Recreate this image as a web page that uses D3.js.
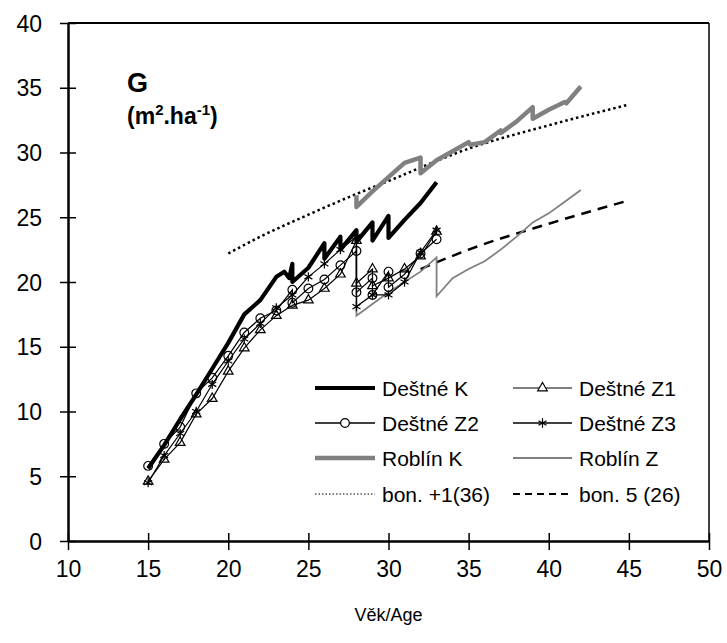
<!DOCTYPE html>
<html><head><meta charset="utf-8">
<script src="https://cdn.jsdelivr.net/npm/d3@7"></script>
<style>body{margin:0;background:#fff}svg{display:block}text{font-family:"Liberation Sans",Arial,sans-serif}</style>
</head><body><svg id="c" width="727" height="643"></svg>
<script>
// ---- data ----
const xTicks = [10, 15, 20, 25, 30, 35, 40, 45, 50];
const yTicks = [0, 5, 10, 15, 20, 25, 30, 35, 40];
const destneK = [[15,5.6],[16,7.4],[17,9.4],[18,11.3],[19,13.3],[20,15.3],[21,17.5],[22,18.6],[23,20.4],[23.5,20.8],[23.8,20.3],[24,21.4],[24,20.0],[25,21.1],[26,23.0],[26,21.8],[27,23.5],[27,22.5],[28,24.0],[28,23.1],[29,24.6],[29,23.2],[30,25.1],[30,23.4],[31,24.8],[32,26.1],[33,27.7]];
const destneZ1 = [[15,4.6],[16,6.3],[17,7.6],[18,9.8],[19,11.0],[20,13.1],[21,14.9],[22,16.3],[23,17.4],[24,18.2],[25,18.6],[26,19.5],[27,20.6],[28,23.2],[28,19.9],[29,21.0],[29,19.7],[30,20.3],[31,21.0],[32,22.0],[33,23.9]];
const destneZ2 = [[15,5.8],[16,7.5],[17,8.8],[18,11.4],[19,12.6],[20,14.3],[21,16.1],[22,17.2],[23,17.8],[24,19.4],[24,18.4],[25,19.5],[26,20.2],[27,21.3],[28,22.4],[28,19.2],[29,20.3],[29,19.0],[30,20.8],[30,19.6],[31,20.6],[32,22.2],[33,23.3]];
const destneZ3 = [[15,4.5],[16,6.6],[17,8.3],[18,10.0],[19,12.1],[20,13.9],[21,15.6],[22,16.8],[23,18.0],[24,19.0],[25,20.4],[26,21.4],[27,22.5],[28,23.5],[28,18.1],[29,19.0],[30,19.0],[31,20.0],[32,22.3],[33,24.0]];
const roblinK = [[28,26.7],[28,25.8],[29,27.0],[30,28.1],[31,29.2],[32,29.6],[32,28.4],[33,29.4],[34,30.1],[35,30.8],[35.1,30.6],[36,30.8],[37,31.7],[37,31.5],[38,32.4],[39,33.5],[39,32.6],[40,33.3],[41,33.9],[41.1,33.8],[42,35.1]];
const roblinZ = [[28,23.5],[28,17.4],[29,18.3],[30,19.2],[31,20.0],[32,20.8],[33,21.9],[33,18.9],[34,20.3],[35,21.0],[36,21.6],[37,22.5],[38,23.5],[39,24.6],[40,25.3],[41,26.2],[42,27.1]];
const bonPlus1 = [[20,22.2],[22,23.5],[25,25.2],[28,26.8],[30,27.8],[35,30.3],[40,32.1],[45,33.7]];
const bon5 = [[32,21.0],[35,22.5],[40,24.5],[45,26.3]];
const legendLabels = ["Deštné K","Deštné Z1","Deštné Z2","Deštné Z3","Roblín K","Roblín Z","bon. +1(36)","bon. 5 (26)"];

// ---- chart ----
const svg = d3.select("#c");
const L = 68, R = 709, T = 23, B = 541;
const x = d3.scaleLinear().domain([10, 50]).range([L, R]);
const y = d3.scaleLinear().domain([0, 40]).range([B, T]);
const line = d3.line().x(d => x(d[0])).y(d => y(d[1]));
const gray = "#808080";

// frame
svg.append("line").attr("x1", L).attr("x2", R).attr("y1", T).attr("y2", T).attr("stroke", "#000").attr("stroke-width", 2);
svg.append("line").attr("x1", R).attr("x2", R).attr("y1", T).attr("y2", B).attr("stroke", "#000").attr("stroke-width", 1.5);

// axes
const yAxis = svg.append("g").attr("transform", `translate(${L},0)`)
  .call(d3.axisLeft(y).tickValues(yTicks).tickSize(8).tickSizeOuter(0).tickPadding(18));
yAxis.selectAll(".tick line").attr("x2", 8).attr("x1", -8).attr("stroke-width", 1.5);
yAxis.select(".domain").attr("stroke-width", 2.5);
yAxis.selectAll("text").attr("font-size", 23).attr("fill", "#000").attr("dy", "0.35em").attr("x", -26);

const xAxis = svg.append("g").attr("transform", `translate(0,${B})`)
  .call(d3.axisBottom(x).tickValues(xTicks).tickSize(9).tickSizeOuter(0).tickPadding(11));
xAxis.selectAll(".tick line").attr("y1", -8).attr("y2", 9).attr("stroke-width", 1.5);
xAxis.select(".domain").attr("stroke-width", 2.5);
xAxis.selectAll("text").attr("font-size", 23).attr("fill", "#000");

svg.append("text").attr("x", (L + R) / 2).attr("y", 621).attr("text-anchor", "middle").attr("font-size", 18).text("Věk/Age");

svg.append("text").attr("x", 127).attr("y", 92).attr("font-size", 27).attr("font-weight", "bold").text("G");
const sub = svg.append("text").attr("x", 127).attr("y", 124).attr("font-size", 23).attr("font-weight", "bold");
sub.append("tspan").text("(m");
sub.append("tspan").attr("font-size", 15).attr("dy", -9).text("2");
sub.append("tspan").attr("dy", 9).text(".ha");
sub.append("tspan").attr("font-size", 15).attr("dy", -9).text("-1");
sub.append("tspan").attr("dy", 9).text(")");

// reference curves
svg.append("path").datum(bonPlus1).attr("d", line.curve(d3.curveMonotoneX)).attr("fill", "none").attr("stroke", "#000").attr("stroke-width", 2.5).attr("stroke-dasharray", "2.5,3");
svg.append("path").datum(bon5).attr("d", line.curve(d3.curveMonotoneX)).attr("fill", "none").attr("stroke", "#000").attr("stroke-width", 2.5).attr("stroke-dasharray", "10,7");
line.curve(d3.curveLinear);

// series
svg.append("path").datum(roblinK).attr("d", line).attr("fill", "none").attr("stroke", gray).attr("stroke-width", 4.5).attr("stroke-linejoin", "round");
svg.append("path").datum(roblinZ).attr("d", line).attr("fill", "none").attr("stroke", gray).attr("stroke-width", 1.8);
svg.append("path").datum(destneK).attr("d", line).attr("fill", "none").attr("stroke", "#000").attr("stroke-width", 4.2).attr("stroke-linejoin", "round");

const tri = d3.symbol().type(d3.symbolTriangle).size(40)();
const circ = d3.symbol().type(d3.symbolCircle).size(60)();
const ast = d3.symbol().type(d3.symbolAsterisk).size(60)();

function markerSeries(data, sym) {
  svg.append("path").datum(data).attr("d", line).attr("fill", "none").attr("stroke", "#000").attr("stroke-width", 1.2);
  svg.append("g").selectAll("path").data(data).join("path")
    .attr("transform", d => `translate(${x(d[0])},${y(d[1])})`)
    .attr("d", sym).attr("fill", "none").attr("stroke", "#000").attr("stroke-width", 1.2);
}
markerSeries(destneZ1, tri);
markerSeries(destneZ2, circ);
markerSeries(destneZ3, ast);

// legend
const cols = [[315, 375, 382], [513, 572, 579]];
const rows = [388, 423, 458, 494];
const styles = [
  {c: "#000", w: 4}, {c: "#000", w: 1.2, m: tri},
  {c: "#000", w: 1.5, m: circ}, {c: "#000", w: 1.5, m: ast},
  {c: gray, w: 4.5}, {c: gray, w: 1.8},
  {c: "#000", w: 1.2, dash: "1.5,2"}, {c: "#000", w: 2, dash: "7,5"}
];
legendLabels.forEach((lab, i) => {
  const col = cols[i % 2], ry = rows[Math.floor(i / 2)], st = styles[i];
  svg.append("line").attr("x1", col[0]).attr("x2", col[1]).attr("y1", ry).attr("y2", ry)
    .attr("stroke", st.c).attr("stroke-width", st.w).attr("stroke-dasharray", st.dash || null);
  if (st.m) svg.append("path").attr("d", st.m).attr("transform", `translate(${(col[0] + col[1]) / 2},${ry})`)
    .attr("fill", "#fff").attr("stroke", "#000").attr("stroke-width", 1.2);
  svg.append("text").attr("x", col[2]).attr("y", ry + 7.5).attr("font-size", 21).text(lab);
});
</script></body></html>
